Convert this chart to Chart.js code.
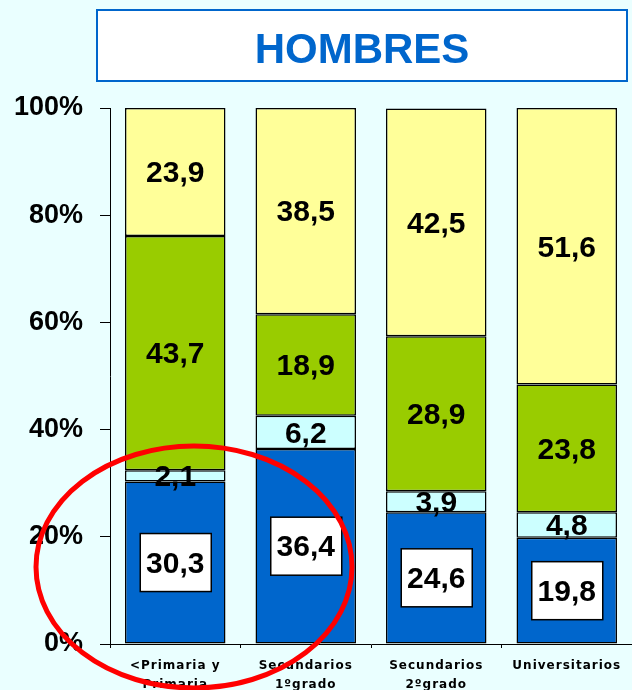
<!DOCTYPE html>
<html>
<head>
<meta charset="utf-8">
<script src="https://cdn.jsdelivr.net/npm/chart.js@4/dist/chart.umd.min.js"></script>
<style>
  html, body { margin: 0; padding: 0; background: #EAFFFF; }
</style>
</head>
<body>
<canvas id="hombresChart" width="632" height="690"></canvas>
<script>
// datos
const categorias = [["<Primaria y", "Primaria"], ["Secundarios", "1ºgrado"], ["Secundarios", "2ºgrado"], ["Universitarios"]];
const serieAzul = [30.3, 36.4, 24.6, 19.8];
const serieCeleste = [2.1, 6.2, 3.9, 4.8];
const serieVerde = [43.7, 18.9, 28.9, 23.8];
const serieAmarilla = [23.9, 38.5, 42.5, 51.6];
const marcasY = [0, 20, 40, 60, 80, 100];
const titulo = "HOMBRES";

const AZUL = '#0066CC';

// fondo + caja del titulo
const fondo = {
  id: 'fondo',
  beforeDraw(chart) {
    const ctx = chart.ctx;
    ctx.save();
    ctx.fillStyle = '#EAFFFF';
    ctx.fillRect(0, 0, chart.width, chart.height);
    ctx.fillStyle = '#FFFFFF';
    ctx.fillRect(97, 10, 530, 71);
    ctx.strokeStyle = AZUL;
    ctx.lineWidth = 2;
    ctx.strokeRect(97, 10, 530, 71);
    ctx.fillStyle = AZUL;
    ctx.font = 'bold 42px "Liberation Sans", Arial, sans-serif';
    ctx.textAlign = 'center';
    ctx.textBaseline = 'alphabetic';
    ctx.fillText(titulo, 362, 63);
    ctx.restore();
  }
};

// valores dentro de cada tramo
const valores = {
  id: 'valores',
  afterDatasetsDraw(chart) {
    const ctx = chart.ctx;
    ctx.save();
    ctx.font = 'bold 30px "Liberation Sans", Arial, sans-serif';
    ctx.textAlign = 'center';
    ctx.textBaseline = 'middle';
    chart.data.datasets.forEach((ds, di) => {
      const meta = chart.getDatasetMeta(di);
      meta.data.forEach((bar, i) => {
        const txt = ds.data[i].toFixed(1).replace('.', ',');
        const cx = bar.x;
        const cy = (bar.y + bar.base) / 2;
        if (di === 0) {
          ctx.fillStyle = '#FFFFFF';
          ctx.fillRect(cx - 35, cy - 29, 71, 58);
          ctx.strokeStyle = '#000';
          ctx.lineWidth = 1.5;
          ctx.strokeRect(cx - 35, cy - 29, 71, 58);
        }
        ctx.fillStyle = '#000';
        ctx.fillText(txt, cx, cy + 2);
      });
    });
    ctx.restore();
  }
};

// etiquetas del eje x y el circulo rojo
const extras = {
  id: 'extras',
  afterDraw(chart) {
    const ctx = chart.ctx;
    const x = chart.scales.x;
    const base = chart.chartArea.bottom;
    ctx.save();
    ctx.font = 'bold 12px "DejaVu Sans", Verdana, sans-serif';
    ctx.letterSpacing = '1px';
    ctx.textAlign = 'center';
    ctx.textBaseline = 'alphabetic';
    ctx.fillStyle = '#000';
    categorias.forEach((lineas, i) => {
      const cx = x.getPixelForValue(i);
      lineas.forEach((t, j) => ctx.fillText(t, cx, base + 25 + j * 19));
    });
    ctx.letterSpacing = '0px';
    ctx.beginPath();
    ctx.ellipse(194, 567, 158, 121, 0, 0, Math.PI * 2);
    ctx.strokeStyle = '#FF0000';
    ctx.lineWidth = 5;
    ctx.stroke();
    ctx.restore();
  }
};

const datosBarra = (data, color) => ({
  data: data,
  backgroundColor: color,
  borderColor: '#000',
  borderWidth: 1.5,
  borderSkipped: false,
  barPercentage: 0.77,
  categoryPercentage: 1
});

const data = {
  labels: categorias,
  datasets: [
    datosBarra(serieAzul, AZUL),
    datosBarra(serieCeleste, '#CCFFFF'),
    datosBarra(serieVerde, '#99CC00'),
    datosBarra(serieAmarilla, '#FFFF99')
  ]
};

const config = {
  type: 'bar',
  data,
  options: {
    responsive: false,
    animation: false,
    layout: { padding: { top: 108, right: -2, bottom: 0, left: 0 } },
    plugins: { legend: { display: false }, tooltip: { enabled: false } },
    scales: {
      x: {
        stacked: true,
        ticks: { display: false },
        grid: { drawOnChartArea: false, drawTicks: true, tickLength: 4, color: '#000', offset: true },
        border: { display: true, color: '#000', width: 1 },
        afterFit(scale) { scale.height = 46; }
      },
      y: {
        stacked: true,
        min: marcasY[0],
        max: marcasY[marcasY.length - 1],
        afterBuildTicks(scale) { scale.ticks = marcasY.map(v => ({ value: v })); },
        ticks: {
          padding: 17,
          color: '#000',
          font: { family: '"Liberation Sans", Arial, sans-serif', size: 27, weight: 'bold' },
          callback: v => v + '%'
        },
        grid: { drawOnChartArea: false, drawTicks: true, tickLength: 10, color: '#000' },
        border: { display: true, color: '#000', width: 1 },
        afterFit(scale) { scale.width = 110; }
      }
    }
  },
  plugins: [fondo, valores, extras]
};

const myChart = new Chart(document.getElementById('hombresChart'), config);
</script>
</body>
</html>
